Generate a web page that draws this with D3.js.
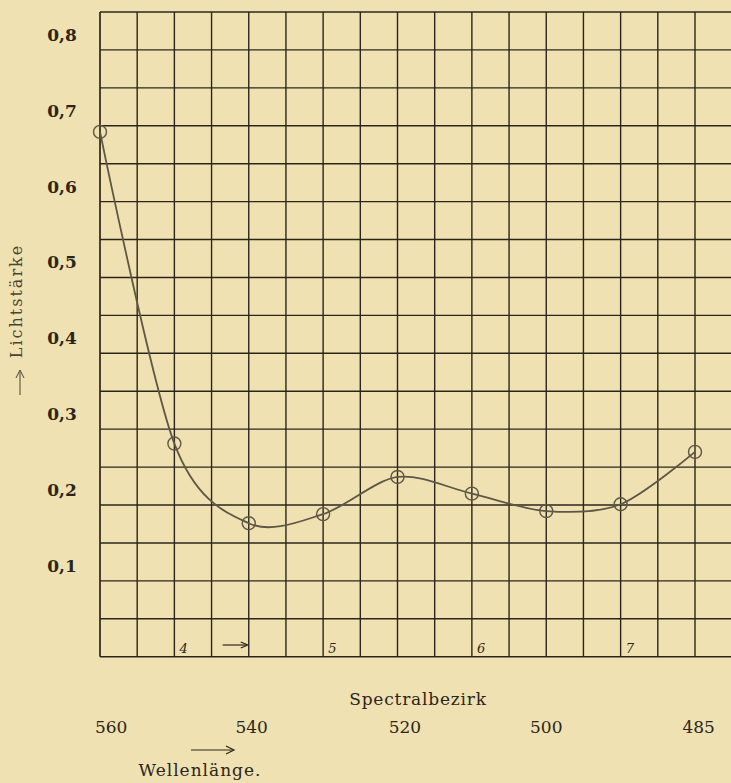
<!DOCTYPE html>
<html>
<head>
<meta charset="utf-8">
<script src="https://cdn.jsdelivr.net/npm/d3@7"></script>
<style>
  html, body { margin: 0; padding: 0; background: #f0e1b2; }
  svg { display: block; }
  text { font-family: "DejaVu Serif", "Liberation Serif", serif; fill: #2b2619; }
</style>
</head>
<body>
<div id="chart"></div>
<script>
// measured points, one per spectral region (left = 560, right = 485)
var pointPos = [0, 1, 2, 3, 4, 5, 6, 7, 8];
var lichtstaerke = [0.672, 0.261, 0.156, 0.168, 0.217, 0.195, 0.172, 0.181, 0.250];

// axis labels
var yTicks = [0.1, 0.2, 0.3, 0.4, 0.5, 0.6, 0.7, 0.8];
var waveLabels = ["560", "540", "520", "500", "485"];
var waveAt = [0.15, 2.04, 4.1, 6.0, 8.05];
var regionNums = ["4", "5", "6", "7"];
var regionAt = [1, 3, 5, 7];

var W = 731, H = 783;
var ink = "#2b2619", curveInk = "#5e5744";

var svg = d3.select("#chart").append("svg")
    .attr("width", W)
    .attr("height", H);

//scales: x in point units, y in Lichtstärke
var x = d3.scaleLinear().domain([0, 8]).range([100, 695]);
var y = d3.scaleLinear().domain([-0.02, 0.83]).range([656.7, 12]);

/////////////// grid ///////////////
var colLines = d3.range(18).map(function(k) { return k * 0.5; });
var rowLines = d3.range(18).map(function(k) { return -0.02 + k * 0.05; });

var grid = svg.append("g").attr("class", "grid");

grid.selectAll(".row")
    .data(rowLines)
    .join("line")
    .attr("class", "row")
    .attr("x1", x(0)).attr("x2", x(8.5))
    .attr("y1", function(d) { return y(d); })
    .attr("y2", function(d) { return y(d); })
    .style("stroke", ink)
    .style("stroke-width", 1.4);

grid.selectAll(".col")
    .data(colLines)
    .join("line")
    .attr("class", "col")
    .attr("x1", function(d) { return x(d); })
    .attr("x2", function(d) { return x(d); })
    .attr("y1", y(rowLines[0]))
    .attr("y2", y(rowLines[rowLines.length - 1]))
    .style("stroke", ink)
    .style("stroke-width", function(d, i) { return i === 0 ? 1.7 : 1.4; });

/////////////// y labels ///////////////
svg.selectAll(".ylab")
    .data(yTicks)
    .join("text")
    .attr("class", "ylab")
    .attr("x", 62)
    .attr("y", function(d) { return y(d); })
    .attr("dy", "0.36em")
    .attr("text-anchor", "middle")
    .style("font-size", "17px")
    .style("font-weight", "bold")
    .text(function(d) { return d3.format(".1f")(d).replace(".", ","); });

//rotated title with arrow
svg.append("text")
    .attr("transform", "translate(22,301) rotate(-90)")
    .attr("text-anchor", "middle")
    .style("font-size", "16px")
    .style("letter-spacing", "2px")
    .style("fill", "#4a4432")
    .text("Lichtstärke");

svg.append("line")
    .attr("x1", 20).attr("x2", 20)
    .attr("y1", 395).attr("y2", 372)
    .style("stroke", "#4a4432").style("stroke-width", 1);
svg.append("path")
    .attr("d", "M16,378 L20,370 L24,378")
    .style("fill", "none").style("stroke", "#4a4432").style("stroke-width", 1);

/////////////// curve & points ///////////////
var pts = pointPos.map(function(p, i) { return [p, lichtstaerke[i]]; });

var line = d3.line()
    .x(function(d) { return x(d[0]); })
    .y(function(d) { return y(d[1]); })
    .curve(d3.curveCardinal.tension(0.1));

svg.append("path")
    .datum(pts)
    .attr("d", line)
    .style("fill", "none")
    .style("stroke", curveInk)
    .style("stroke-width", 1.8);

svg.selectAll(".pt")
    .data(pts)
    .join("circle")
    .attr("class", "pt")
    .attr("cx", function(d) { return x(d[0]); })
    .attr("cy", function(d) { return y(d[1]); })
    .attr("r", 6.5)
    .style("fill", "none")
    .style("stroke", curveInk)
    .style("stroke-width", 1.4);

/////////////// region numbers in the bottom row ///////////////
svg.selectAll(".reg")
    .data(regionNums)
    .join("text")
    .attr("class", "reg")
    .attr("x", function(d, i) { return x(regionAt[i]) + 5; })
    .attr("y", 653)
    .style("font-size", "13px")
    .style("font-style", "italic")
    .text(function(d) { return d; });

//little arrow after region 4
svg.append("line")
    .attr("x1", x(1.65)).attr("x2", x(2) - 2)
    .attr("y1", 645).attr("y2", 645)
    .style("stroke", ink).style("stroke-width", 1.2);
svg.append("path")
    .attr("d", "M" + (x(2) - 8) + ",642 L" + (x(2) - 1) + ",645 L" + (x(2) - 8) + ",648")
    .style("fill", "none").style("stroke", ink).style("stroke-width", 1.2);

/////////////// x labels ///////////////
svg.append("text")
    .attr("x", 418)
    .attr("y", 699)
    .attr("dy", "0.36em")
    .attr("text-anchor", "middle")
    .style("font-size", "17px")
    .style("letter-spacing", "0.8px")
    .text("Spectralbezirk");

svg.selectAll(".xlab")
    .data(waveLabels)
    .join("text")
    .attr("class", "xlab")
    .attr("x", function(d, i) { return x(waveAt[i]); })
    .attr("y", 727)
    .attr("dy", "0.36em")
    .attr("text-anchor", "middle")
    .style("font-size", "17px")
    .text(function(d) { return d; });

svg.append("line")
    .attr("x1", 191).attr("x2", 233)
    .attr("y1", 750).attr("y2", 750)
    .style("stroke", ink).style("stroke-width", 1.2);
svg.append("path")
    .attr("d", "M226,746 L234,750 L226,754")
    .style("fill", "none").style("stroke", ink).style("stroke-width", 1.2);

svg.append("text")
    .attr("x", 200)
    .attr("y", 770)
    .attr("dy", "0.36em")
    .attr("text-anchor", "middle")
    .style("font-size", "17px")
    .style("letter-spacing", "1px")
    .text("Wellenlänge.");
</script>
</body>
</html>
